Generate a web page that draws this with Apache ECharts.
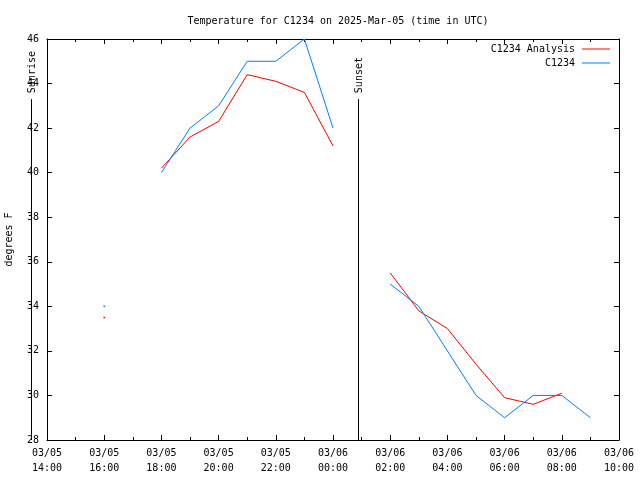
<!DOCTYPE html>
<html>
<head>
<meta charset="utf-8">
<script src="https://cdn.jsdelivr.net/npm/echarts@6/dist/echarts.min.js"></script>
<style>
html,body{margin:0;padding:0;background:#fff;}
#chart{width:640px;height:480px;}
</style>
</head>
<body>
<div id="chart"></div>
<script>
// Hours since 2025-03-05 00:00 UTC
const hours = [16, 17, 18, 19, 20, 21, 22, 23, 24, 25, 26, 27, 28, 29, 30, 31, 32, 33];
const analysisValues = [33.5, null, 40.2, 41.6, 42.3, 44.4, 44.1, 43.6, 41.2, null, 35.5, 33.8, 33.0, 31.4, 29.9, 29.6, 30.1, null];
const obsValues = [34.0, null, 40.0, 42.0, 43.0, 45.0, 45.0, 46.0, 42.0, null, 35.0, 34.0, 32.0, 30.0, 29.0, 30.0, 30.0, 29.0];
const xTickLabels = ['03/05\n14:00', '03/05\n16:00', '03/05\n18:00', '03/05\n20:00', '03/05\n22:00', '03/06\n00:00', '03/06\n02:00', '03/06\n04:00', '03/06\n06:00', '03/06\n08:00', '03/06\n10:00'];
const yTicks = [28, 30, 32, 34, 36, 38, 40, 42, 44, 46];
const sunNames = ['Sunrise', 'Sunset'];
const sunHours = [13.45, 24.88];
const seriesNames = ['C1234 Analysis', 'C1234'];

const FONT = 'DejaVu Sans Mono';
const chart = echarts.init(document.getElementById('chart'), null, {renderer: 'canvas'});

function pairs(vals) { return hours.map((h, i) => [h, vals[i]]); }
function isolatedSize(vals) {
  return function (v, p) {
    const i = p.dataIndex;
    const prev = i > 0 ? vals[i - 1] : null;
    const next = i < vals.length - 1 ? vals[i + 1] : null;
    return (vals[i] != null && prev == null && next == null) ? 1.5 : 0;
  };
}

const xMin = 14, xMax = 34;
const axisCommon = {
  axisLine: {show: true, lineStyle: {color: '#000', width: 1}},
  splitLine: {show: false}
};

const option = {
  animation: false,
  backgroundColor: '#fff',
  title: {
    text: 'Temperature for C1234 on 2025-Mar-05 (time in UTC)',
    left: 333, top: 11, textAlign: 'center',
    textStyle: {fontFamily: FONT, fontSize: 10, fontWeight: 'normal', color: '#000'}
  },
  legend: {
    data: seriesNames,
    orient: 'vertical', right: 25, top: 38, align: 'right',
    icon: 'rect', itemWidth: 28, itemHeight: 1, itemGap: 2,
    textStyle: {fontFamily: FONT, fontSize: 10, color: '#000', lineHeight: 12, padding: [0, 2, 0, 0]}
  },
  grid: {left: 47, right: 21, top: 39, bottom: 40, containLabel: false, outerBoundsMode: 'none'},
  xAxis: [
    Object.assign({}, axisCommon, {
      type: 'value', position: 'bottom', min: xMin, max: xMax, interval: 2,
      axisTick: {show: true, inside: true, length: 5, lineStyle: {color: '#000'}},
      minorTick: {show: true, splitNumber: 2, length: 3, lineStyle: {color: '#000'}},
      axisLabel: {
        fontFamily: FONT, fontSize: 10, color: '#000', margin: 6, lineHeight: 15,
        formatter: v => xTickLabels[Math.round((v - xMin) / 2)] || ''
      }
    }),
    Object.assign({}, axisCommon, {
      type: 'value', position: 'top', min: xMin, max: xMax, interval: 2,
      axisTick: {show: true, inside: true, length: 5, lineStyle: {color: '#000'}},
      minorTick: {show: true, splitNumber: 2, length: 3, lineStyle: {color: '#000'}},
      axisLabel: {show: false}
    })
  ],
  yAxis: [
    Object.assign({}, axisCommon, {
      type: 'value', position: 'left', min: yTicks[0], max: yTicks[yTicks.length - 1], interval: 2,
      name: 'degrees F', nameLocation: 'middle', nameGap: 33, nameRotate: 90,
      nameTextStyle: {fontFamily: FONT, fontSize: 10, color: '#000'},
      axisTick: {show: true, inside: true, length: 5, lineStyle: {color: '#000'}},
      axisLabel: {fontFamily: FONT, fontSize: 10, color: '#000', margin: 8}
    }),
    Object.assign({}, axisCommon, {
      type: 'value', position: 'right', min: yTicks[0], max: yTicks[yTicks.length - 1], interval: 2,
      axisTick: {show: true, inside: true, length: 5, lineStyle: {color: '#000'}},
      axisLabel: {show: false}
    })
  ],
  series: [
    {
      name: seriesNames[0], type: 'line', xAxisIndex: 0, yAxisIndex: 0,
      data: pairs(analysisValues), connectNulls: false,
      showSymbol: true, symbol: 'rect', symbolSize: isolatedSize(analysisValues),
      lineStyle: {color: '#ff0000', width: 1}, itemStyle: {color: '#ff0000'},
      emphasis: {disabled: true}
    },
    {
      name: seriesNames[1], type: 'line', xAxisIndex: 0, yAxisIndex: 0,
      data: pairs(obsValues), connectNulls: false,
      showSymbol: true, symbol: 'rect', symbolSize: isolatedSize(obsValues),
      lineStyle: {color: '#0080ff', width: 1}, itemStyle: {color: '#0080ff'},
      emphasis: {disabled: true}
    },
    {
      name: 'sun', type: 'custom', xAxisIndex: 0, yAxisIndex: 0, clip: false,
      data: sunHours.map((h, i) => [h, i]),
      encode: {x: 0},
      renderItem: function (params, api) {
        const h = api.value(0);
        const idx = api.value(1);
        const top = api.coord([h, 43.3]);
        const bot = api.coord([h, 28]);
        const lx = Math.round(top[0]) + 0.5;
        return {
          type: 'group',
          children: [
            {type: 'line', shape: {x1: lx, y1: top[1], x2: lx, y2: bot[1]},
             style: {stroke: '#000', lineWidth: 1}},
            {type: 'text', x: lx + 1, y: top[1] - 6, rotation: Math.PI / 2,
             style: {text: sunNames[idx], font: '10px ' + FONT, fill: '#000', align: 'left', verticalAlign: 'middle'}}
          ]
        };
      }
    }
  ]
};
chart.setOption(option);
</script>
</body>
</html>
